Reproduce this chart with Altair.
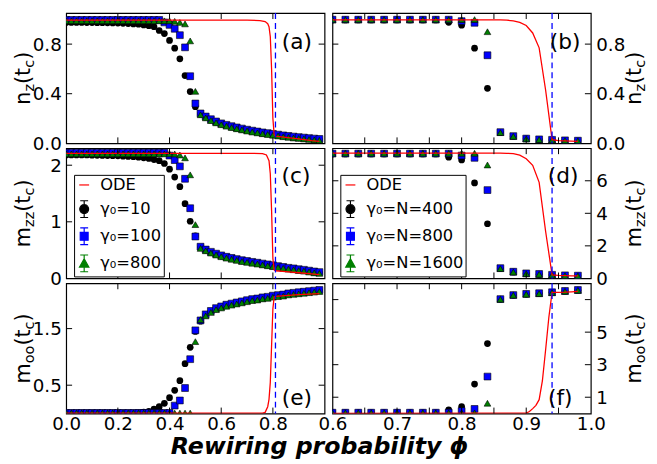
import altair as alt
import pandas as pd

FONT = "DejaVu Sans"
W, H = 262, 132

# ---------------- data ----------------
phi_left = [0.00, 0.02, 0.04, 0.06, 0.08, 0.10, 0.12, 0.14, 0.16, 0.18,
            0.20, 0.22, 0.24, 0.26, 0.28, 0.30, 0.32, 0.34, 0.36, 0.38,
            0.40, 0.42, 0.44, 0.46, 0.48, 0.50, 0.52, 0.54, 0.56, 0.58,
            0.60, 0.62, 0.64, 0.66, 0.68, 0.70, 0.72, 0.74, 0.76, 0.78,
            0.80, 0.82, 0.84, 0.86, 0.88, 0.90, 0.92, 0.94, 0.96, 0.98]
phi_right = [0.60, 0.62, 0.64, 0.66, 0.68, 0.70, 0.72, 0.74, 0.76, 0.78,
             0.80, 0.82, 0.84, 0.86, 0.88, 0.90, 0.92, 0.94, 0.96, 0.98]

# (a) n_z, gamma0 = 10 / 100 / 800
a_g10 = [.975, .975, .975, .975, .974, .974, .973, .973, .972, .971, .970, .968, .966, .963, .960, .955, .948, .940, .910, .885,
         .830, .767, .681, .546, .417, .295,
         .235, .210, .188, .170, .155, .143, .132, .122, .113, .104, .096, .089, .082, .076, .070, .064, .058, .053, .048, .044, .040, .036, .032, .029]
a_g100 = [.995, .995, .995, .995, .995, .995, .995, .995, .995, .995, .995, .995, .995, .995, .995, .995, .995, .995, .995,
          .975, .955, .924, .872, .774, .541, .321,
          .241, .216, .194, .176, .161, .149, .138, .128, .119, .110, .102, .095, .088, .082, .076, .070, .064, .059, .054, .050, .046, .042, .038, .035]
a_g800 = [.988, .988, .988, .988, .988, .988, .988, .988, .988, .988, .988, .988, .988, .988, .988, .988, .988, .988, .988, .988, .988,
          .984, .975, .963, .826, .419,
          .230, .205, .183, .165, .150, .138, .127, .117, .108, .099, .091, .084, .077, .071, .065, .059, .053, .048, .043, .039, .035, .031, .027, .024]

# (c) m_zz
c_g10 = [2.18, 2.18, 2.18, 2.18, 2.18, 2.177, 2.175, 2.172, 2.17, 2.168, 2.165,
         2.16, 2.155, 2.15, 2.14, 2.13, 2.12, 2.10, 2.08, 2.03, 1.93, 1.79, 1.62, 1.32, 1.01, 0.75,
         .55, .50, .46, .425, .395, .37, .35, .33, .31, .295, .28, .265, .25, .235, .22, .205, .19, .175, .165, .15, .14, .125, .11, .10]
c_g100 = [2.22, 2.22, 2.22, 2.22, 2.22, 2.22, 2.22, 2.22, 2.22, 2.22, 2.22, 2.22, 2.22, 2.22, 2.22, 2.22, 2.22, 2.22, 2.22, 2.22,
          2.17, 2.09, 1.98, 1.76, 1.24, 0.74,
          .56, .51, .47, .437, .407, .382, .362, .342, .322, .307, .292, .277, .262, .247, .232, .217, .202, .187, .177, .162, .152, .137, .122, .112]
c_g800 = [2.20, 2.20, 2.20, 2.20, 2.20, 2.20, 2.20, 2.20, 2.20, 2.20, 2.20, 2.20, 2.20, 2.20, 2.20, 2.20, 2.20, 2.20, 2.20, 2.20, 2.20, 2.20,
          2.18, 2.13, 1.83, 0.95,
          .53, .488, .448, .413, .383, .358, .338, .318, .298, .283, .268, .253, .238, .223, .208, .193, .178, .163, .153, .138, .128, .113, .098, .088]

# (e) m_oo
e_g10 = [.01, .01, .01, .01, .01, .01, .01, .01, .01, .01, .01, .01, .01, .01,
         .015, .025, .04, .08, .12, .18, .28, .41, .58, .88, 1.17, 1.45,
         1.63, 1.74, 1.80, 1.85, 1.88, 1.91, 1.93, 1.95, 1.97, 1.99, 2.01, 2.02, 2.04, 2.05, 2.07, 2.08, 2.09, 2.11, 2.12, 2.13, 2.14, 2.15, 2.16, 2.17]
e_g100 = [.01, .01, .01, .01, .01, .01, .01, .01, .01, .01, .01, .01, .01, .01, .01, .01, .01, .01, .01, .01, .01,
          .14, .23, .45, .96, 1.47,
          1.645, 1.752, 1.812, 1.862, 1.892, 1.922, 1.942, 1.962, 1.982, 2.002, 2.022, 2.032, 2.052, 2.062, 2.082, 2.092, 2.102, 2.122, 2.132, 2.142, 2.152, 2.162, 2.172, 2.182]
e_g800 = [.008, .008, .008, .008, .008, .008, .008, .008, .008, .008, .008, .008, .008, .008, .008, .008, .008, .008, .008, .008, .008, .008, .008, .008, .008,
          1.27,
          1.66, 1.725, 1.785, 1.835, 1.865, 1.895, 1.915, 1.935, 1.955, 1.975, 1.995, 2.005, 2.025, 2.035, 2.055, 2.065, 2.075, 2.095, 2.105, 2.115, 2.125, 2.135, 2.145, 2.155]

# (b) n_z, gamma0 = N = 400 / 800 / 1600
b_g400 = [.995, .995, .995, .995, .995, .995, .995, .995, .995, .976, .952, .767, .443, .088, .057, .037, .031, .027, .023, .020]
b_g800 = [.997, .997, .997, .997, .997, .997, .997, .997, .997, .997, .985, .972, .710, .090, .058, .038, .032, .028, .024, .021]
b_g1600 = [.998, .998, .998, .998, .998, .998, .998, .998, .998, .998, .998, .998, .900, .086, .056, .036, .030, .026, .022, .019]

# (d) m_zz
d_g400 = [7.65, 7.65, 7.65, 7.65, 7.65, 7.65, 7.65, 7.65, 7.65, 7.45, 7.28, 5.87, 3.36, .62, .40, .30, .26, .21, .18, .16]
d_g800 = [7.67, 7.67, 7.67, 7.67, 7.67, 7.67, 7.67, 7.67, 7.67, 7.67, 7.55, 7.41, 5.43, .63, .41, .31, .27, .22, .19, .17]
d_g1600 = [7.69, 7.69, 7.69, 7.69, 7.69, 7.69, 7.69, 7.69, 7.69, 7.69, 7.69, 7.69, 6.97, .60, .39, .29, .25, .20, .17, .15]

# (f) m_oo
f_g400 = [.05, .05, .05, .05, .05, .05, .05, .05, .05, .22, .43, 1.81, 4.30, 7.03, 7.28, 7.34, 7.38, 7.44, 7.52, 7.58]
f_g800 = [.05, .05, .05, .05, .05, .05, .05, .05, .05, .05, .15, .28, 2.27, 7.03, 7.28, 7.35, 7.39, 7.45, 7.53, 7.59]
f_g1600 = [.04, .04, .04, .04, .04, .04, .04, .04, .04, .04, .04, .04, .63, 7.02, 7.27, 7.33, 7.37, 7.43, 7.51, 7.57]

# ODE curves
ode_a_x = [0.0, 0.70, 0.75, 0.77, 0.78, 0.785, 0.79, 0.795, 0.80, 0.805, 0.81, 0.85, 0.90, 0.95, 0.98]
ode_a_y = [0.993, 0.993, 0.99, 0.982, 0.965, 0.94, 0.86, 0.60, 0.20, 0.07, 0.058, 0.047, 0.035, 0.022, 0.016]
ode_c_x = [0.0, 0.70, 0.76, 0.775, 0.785, 0.79, 0.795, 0.80, 0.805, 0.81, 0.85, 0.90, 0.95, 0.98]
ode_c_y = [2.21, 2.21, 2.205, 2.18, 2.08, 1.85, 1.20, 0.35, 0.15, 0.135, 0.12, 0.10, 0.08, 0.065]
ode_e_x = [0.0, 0.76, 0.77, 0.78, 0.785, 0.79, 0.795, 0.80, 0.805, 0.81, 0.90, 0.98]
ode_e_y = [0.005, 0.005, 0.02, 0.12, 0.25, 0.55, 1.20, 1.85, 2.06, 2.07, 2.10, 2.12]
ode_b_x = [0.60, 0.86, 0.87, 0.88, 0.89, 0.90, 0.91, 0.92, 0.93, 0.94, 0.95, 0.96, 0.97, 0.98]
ode_b_y = [0.995, 0.995, 0.993, 0.988, 0.975, 0.95, 0.89, 0.77, 0.43, 0.03, 0.022, 0.02, 0.018, 0.016]
ode_d_x = [0.60, 0.86, 0.87, 0.88, 0.89, 0.90, 0.91, 0.92, 0.93, 0.94, 0.95, 0.96, 0.97, 0.98]
ode_d_y = [7.70, 7.70, 7.69, 7.67, 7.57, 7.35, 6.95, 5.90, 2.90, 0.22, 0.18, 0.17, 0.16, 0.15]
ode_f_x = [0.60, 0.90, 0.905, 0.91, 0.915, 0.92, 0.925, 0.93, 0.935, 0.94, 0.95, 0.96, 0.97, 0.98]
ode_f_y = [0.0, 0.02, 0.12, 0.30, 0.50, 0.85, 2.0, 3.9, 5.9, 7.44, 7.45, 7.46, 7.48, 7.50]

phi_c_left = 0.81
phi_c_right = 0.94

legend_left = ["ODE", "γ₀=10", "γ₀=100", "γ₀=800"]
legend_right = ["ODE", "γ₀=N=400", "γ₀=N=800", "γ₀=N=1600"]

xticks_left = [0.2, 0.4, 0.6, 0.8]
xlabels_left = [0.0, 0.2, 0.4, 0.6, 0.8]
xticks_right = [0.65, 0.70, 0.75, 0.80, 0.85, 0.90, 0.95]
xlabels_right = [0.6, 0.7, 0.8, 0.9, 1.0]
x_title = "Rewiring probability ϕ"

# ---------------- styling helpers ----------------
RED = "#ff0000"
BLUE = "#0000ff"
GREEN = "#008000"
EB = " M0,-1.7L0,1.7M-0.8,-1.7L0.8,-1.7M-0.8,1.7L0.8,1.7"
SHAPE_C = "M0.9,0A0.9,0.9,0,1,1,-0.9,0A0.9,0.9,0,1,1,0.9,0Z" + EB
SHAPE_S = "M-0.8,-0.8L0.8,-0.8L0.8,0.8L-0.8,0.8Z" + EB
SHAPE_T = "M0,-0.95L0.95,0.75L-0.95,0.75Z" + EB

CW = {"n": .634, "m": .974, "z": .525, "o": .612, "c": .550, "t": .392, "(": .390, ")": .390}
TF = 21
SUB = 0.7


def text_width(s, fs):
    return sum(CW.get(ch, 0.6) for ch in s) * fs


def ytitle_layers(pieces, xbase, ycenter):
    total = sum(text_width(t, TF * (SUB if s else 1)) for t, s in pieces)
    cur = ycenter + total / 2
    layers = []
    for t, s in pieces:
        fs = TF * (SUB if s else 1)
        layers.append(
            alt.Chart(pd.DataFrame({"t": [t]})).mark_text(
                angle=270, align="left", baseline="alphabetic", font=FONT,
                fontSize=fs, color="black"
            ).encode(x=alt.value(xbase + (4 if s else 0)), y=alt.value(cur), text="t:N")
        )
        cur -= text_width(t, fs)
    return layers


def panel(phi, s1, s2, s3, ox, oy, xdom, ydom, ylabvals, yfmt, yticks, xticks,
          side, vline, letter, lxy, tpieces, bottom=False, xlabvals=None, legend_labels=None,
          xtitle=None):
    xs = alt.Scale(domain=xdom, nice=False, zero=False)
    ys = alt.Scale(domain=ydom, nice=False, zero=False)
    if bottom:
        xaxis = alt.Axis(values=xlabvals, format=".1f", ticks=False, domain=False, grid=False,
                         labelFontSize=18.5, labelFont=FONT, labelColor="black",
                         labelPadding=1, labelFlush=False, title=None)
    else:
        xaxis = None
    yaxis = alt.Axis(values=ylabvals, format=yfmt, orient=side, ticks=False, domain=False,
                     grid=False, labelFontSize=18.5, labelFont=FONT, labelColor="black",
                     labelPadding=5, title=None)

    def X(f):
        return alt.X(f, type="quantitative", scale=xs, axis=xaxis)

    def Y(f):
        return alt.Y(f, type="quantitative", scale=ys, axis=yaxis)

    df = pd.DataFrame({"phi": phi, "s1": s1, "s2": s2, "s3": s3})
    ode = pd.DataFrame({"x": ox, "y": oy})
    layers = []
    layers.append(alt.Chart(df).mark_point(shape="circle", filled=True, size=46, color="black",
                                           opacity=1, clip=True).encode(x=X("phi"), y=Y("s1")))
    layers.append(alt.Chart(df).mark_point(shape="square", filled=True, size=48, fill=BLUE,
                                           stroke="black", strokeWidth=0.6, opacity=1,
                                           clip=True).encode(x=X("phi"), y=Y("s2")))
    layers.append(alt.Chart(df).mark_point(shape="triangle-up", filled=True, size=46, fill=GREEN,
                                           stroke="black", strokeWidth=0.6, opacity=1,
                                           clip=True).encode(x=X("phi"), y=Y("s3")))
    layers.append(alt.Chart(ode).mark_line(color=RED, strokeWidth=1.3, clip=True).encode(
        x=X("x"), y=Y("y")))
    layers.append(alt.Chart(pd.DataFrame({"v": [vline]})).mark_rule(
        color=BLUE, strokeDash=[6, 4], strokeWidth=1.3).encode(x=X("v")))
    yt = pd.DataFrame({"v": yticks})
    xt = pd.DataFrame({"v": xticks})
    layers.append(alt.Chart(yt).mark_rule(color="black", strokeWidth=1).encode(
        y=Y("v"), x=alt.value(0), x2=alt.value(6)))
    layers.append(alt.Chart(yt).mark_rule(color="black", strokeWidth=1).encode(
        y=Y("v"), x=alt.value(W - 6), x2=alt.value(W)))
    layers.append(alt.Chart(xt).mark_rule(color="black", strokeWidth=1).encode(
        x=X("v"), y=alt.value(H - 6), y2=alt.value(H)))
    layers.append(alt.Chart(xt).mark_rule(color="black", strokeWidth=1).encode(
        x=X("v"), y=alt.value(0), y2=alt.value(6)))
    layers.append(alt.Chart(pd.DataFrame({"t": [letter]})).mark_text(
        fontSize=22, font=FONT, align="center", baseline="middle", color="black").encode(
        x=alt.value(lxy[0]), y=alt.value(lxy[1]), text="t:N"))
    if side == "left":
        layers += ytitle_layers(tpieces, -37, H / 2)
    else:
        layers += ytitle_layers(tpieces, W + 51, H / 2)
    if xtitle is not None:
        layers.append(alt.Chart(pd.DataFrame({"t": [xtitle]})).mark_text(
            fontSize=24, font=FONT, fontWeight="bold", fontStyle="italic", align="center",
            baseline="alphabetic", color="black").encode(
            x=alt.value(257), y=alt.value(H + 41), text="t:N"))
    if legend_labels is not None:
        leg = alt.Legend(orient="none", legendX=8, legendY=27, title=None,
                         labelFontSize=16.5, labelFont=FONT, labelColor="black",
                         symbolSize=100, symbolStrokeWidth=1.2, strokeColor="black",
                         fillColor="white", padding=2, rowPadding=4.5, labelOffset=8,
                         cornerRadius=0, symbolOpacity=1)
        ldf = pd.DataFrame({"lab": legend_labels})
        layers.append(alt.Chart(ldf).mark_point(filled=True, size=0, opacity=1).encode(
            x=alt.value(W / 2), y=alt.value(H / 2),
            fill=alt.Fill("lab:N", scale=alt.Scale(domain=legend_labels, range=[RED, "black", BLUE, GREEN]), legend=leg),
            stroke=alt.Stroke("lab:N", scale=alt.Scale(domain=legend_labels, range=[RED, "black", BLUE, GREEN]), legend=leg),
            shape=alt.Shape("lab:N", scale=alt.Scale(domain=legend_labels, range=["stroke", SHAPE_C, SHAPE_S, SHAPE_T]), legend=leg),
        ))
    return alt.layer(*layers).properties(width=W, height=H)


T_NZ = [("n", False), ("z", True), ("(t", False), ("c", True), (")", False)]
T_MZZ = [("m", False), ("zz", True), ("(t", False), ("c", True), (")", False)]
T_MOO = [("m", False), ("oo", True), ("(t", False), ("c", True), (")", False)]

pa = panel(phi_left, a_g10, a_g100, a_g800, ode_a_x, ode_a_y, [0, 1.0], [0, 1.05],
           [0.0, 0.4, 0.8], ".1f", [0.4, 0.8], xticks_left, "left", phi_c_left, "(a)", (234, 29), T_NZ)
pb = panel(phi_right, b_g400, b_g800, b_g1600, ode_b_x, ode_b_y, [0.6, 1.0], [0, 1.05],
           [0.0, 0.4, 0.8], ".1f", [0.4, 0.8], xticks_right, "right", phi_c_right, "(b)", (236, 29), T_NZ)
pc = panel(phi_left, c_g10, c_g100, c_g800, ode_c_x, ode_c_y, [0, 1.0], [0, 2.3],
           [0, 1, 2], ".0f", [1, 2], xticks_left, "left", phi_c_left, "(c)", (233, 28), T_MZZ,
           legend_labels=legend_left)
pd_ = panel(phi_right, d_g400, d_g800, d_g1600, ode_d_x, ode_d_y, [0.6, 1.0], [0, 8],
            [0, 2, 4, 6], ".0f", [2, 4, 6], xticks_right, "right", phi_c_right, "(d)", (234, 28), T_MZZ,
            legend_labels=legend_right)
pe = panel(phi_left, e_g10, e_g100, e_g800, ode_e_x, ode_e_y, [0, 1.0], [0, 2.3],
           [0.5, 1.5], ".1f", [0.5, 1.5], xticks_left, "left", phi_c_left, "(e)", (234, 116), T_MOO,
           bottom=True, xlabvals=xlabels_left, xtitle=x_title)
pf = panel(phi_right, f_g400, f_g800, f_g1600, ode_f_x, ode_f_y, [0.6, 1.0], [0, 8],
           [1, 3, 5], ".0f", [1, 3, 5, 7], xticks_right, "right", phi_c_right, "(f)", (231, 116), T_MOO,
           bottom=True, xlabvals=xlabels_right)

chart = alt.concat(pa, pb, pc, pd_, pe, pf, columns=2, spacing={"row": 5, "column": 8},
                   bounds="flush").resolve_scale(
    x="independent", y="independent", fill="independent", stroke="independent", shape="independent"
).properties(
    padding={"left": 4, "top": 0, "right": 0, "bottom": 0},
    background="white",
).configure_view(stroke="black", strokeWidth=1.2)

chart.save("out.html", embed_options={"renderer": "svg", "actions": False})
